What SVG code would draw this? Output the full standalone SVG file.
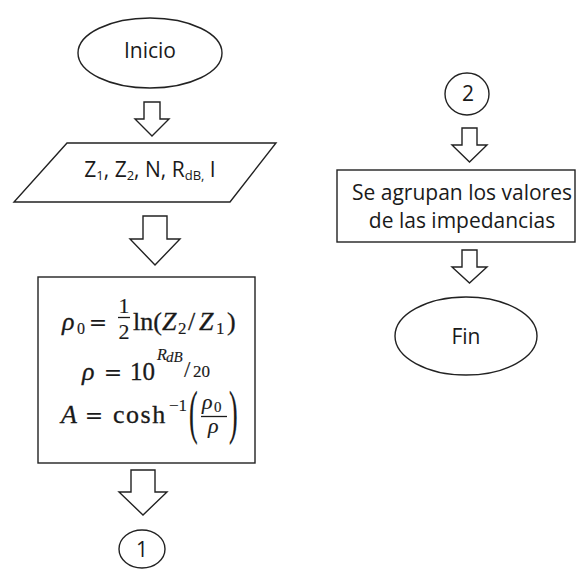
<svg xmlns="http://www.w3.org/2000/svg" width="577" height="571" viewBox="0 0 577 571">
<style>
.shape{fill:#fff;stroke:#222;stroke-width:1.4}
.arrow{fill:#fff;stroke:#222;stroke-width:1.4;stroke-linejoin:miter}
.t{font-family:"Open Sans","Liberation Sans",sans-serif;font-size:21px;fill:#1a1a1a}
.m{font-family:"Liberation Serif","DejaVu Serif",serif;font-size:26px;fill:#1a1a1a;stroke:#1a1a1a;stroke-width:0.3}
.s{stroke-width:0.15}
.eq{font-family:"DejaVu Serif",serif;font-size:22px;fill:#1a1a1a;text-anchor:middle}
.i{font-style:italic}
.bar{stroke:#1a1a1a;stroke-width:1.3}
</style>
<rect width="577" height="571" fill="#fff"/>
<g id="connectors">
<polygon class="arrow" points="144,102 160,102 160,119 169,119 152,136 135,119 144,119"/>
<polygon class="arrow" points="143,216 167,216 167,239 180,239 155,265 130,239 143,239"/>
<polygon class="arrow" points="131,470 155,470 155,492 167,492 143,515 119,492 131,492"/>
<polygon class="arrow" points="462,128 477,128 477,145 487,145 469.5,162 452,145 462,145"/>
<polygon class="arrow" points="462,250 477,250 477,267 487,267 469.5,283 452,267 462,267"/>
</g>
<g id="inicio">
<ellipse class="shape" cx="150" cy="53" rx="72" ry="35"/>
<text class="t" x="150" y="58" text-anchor="middle">Inicio</text>
</g>
<g id="entrada">
<polygon class="shape" points="67,143 276,143 230,202 14,202"/>
<text class="t" x="150" y="177" text-anchor="middle">Z<tspan font-size="13" dy="3">1</tspan><tspan dy="-3">, Z</tspan><tspan font-size="13" dy="3">2</tspan><tspan dy="-3">, N, R</tspan><tspan font-size="13" dy="3">dB,</tspan><tspan dy="-3"> I</tspan></text>
</g>
<g id="calculo">
<rect class="shape" x="38" y="277" width="217" height="186"/>
<text class="m i" x="62" y="330">ρ</text>
<text class="m s" x="77" y="334" style="font-size:16px">0</text>
<text class="eq" x="98" y="330">=</text>
<text class="m s" x="124" y="313" text-anchor="middle" style="font-size:22px">1</text>
<line class="bar" x1="118" y1="317.5" x2="130" y2="317.5"/>
<text class="m s" x="124" y="339" text-anchor="middle" style="font-size:22px">2</text>
<text class="m" x="133" y="330">ln(</text>
<text class="m i" x="162" y="330">Z</text>
<text class="m s" x="178" y="334" style="font-size:17px">2</text>
<text class="m" x="188" y="330">/</text>
<text class="m i" x="199" y="330">Z</text>
<text class="m s" x="216" y="334" style="font-size:17px">1</text>
<text class="m" x="227" y="330">)</text>
<text class="m i" x="82" y="380">ρ</text>
<text class="eq" x="113" y="380">=</text>
<text class="m" x="130" y="380" style="font-size:25px">10</text>
<text class="m i s" x="157" y="360" style="font-size:16px">R</text>
<text class="m i s" x="166" y="362" style="font-size:15px">dB</text>
<text class="m s" x="184" y="377" style="font-size:23px">/</text>
<text class="m s" x="193" y="377" style="font-size:17px">20</text>
<text class="m i" x="61" y="423">A</text>
<text class="eq" x="94" y="423">=</text>
<text class="m" x="113" y="423" letter-spacing="1.5">cosh</text>
<text class="m s" x="169" y="411" style="font-size:17px">−1</text>
<text class="m s" transform="translate(189,432) scale(1,2.3)">(</text>
<text class="m i s" x="202" y="409" style="font-size:22px">ρ</text>
<text class="m s" x="214" y="412" style="font-size:15px">0</text>
<line class="bar" x1="201" y1="416.5" x2="227" y2="416.5"/>
<text class="m i s" x="208" y="433" style="font-size:22px">ρ</text>
<text class="m s" transform="translate(229,432) scale(1,2.3)">)</text>
</g>
<g id="conector1">
<ellipse class="shape" cx="142" cy="549" rx="23" ry="19"/>
<text class="t" x="142" y="557" text-anchor="middle">1</text>
</g>
<g id="conector2">
<ellipse class="shape" cx="467" cy="94" rx="22" ry="21"/>
<text class="t" x="468" y="101" text-anchor="middle">2</text>
</g>
<g id="agrupar">
<rect class="shape" x="337" y="170" width="238" height="72"/>
<text class="t" x="462" y="200" text-anchor="middle">Se agrupan los valores</text>
<text class="t" x="462" y="228" text-anchor="middle">de las impedancias</text>
</g>
<g id="fin">
<ellipse class="shape" cx="466" cy="336" rx="71" ry="39"/>
<text class="t" x="466" y="344" text-anchor="middle">Fin</text>
</g>
</svg>
